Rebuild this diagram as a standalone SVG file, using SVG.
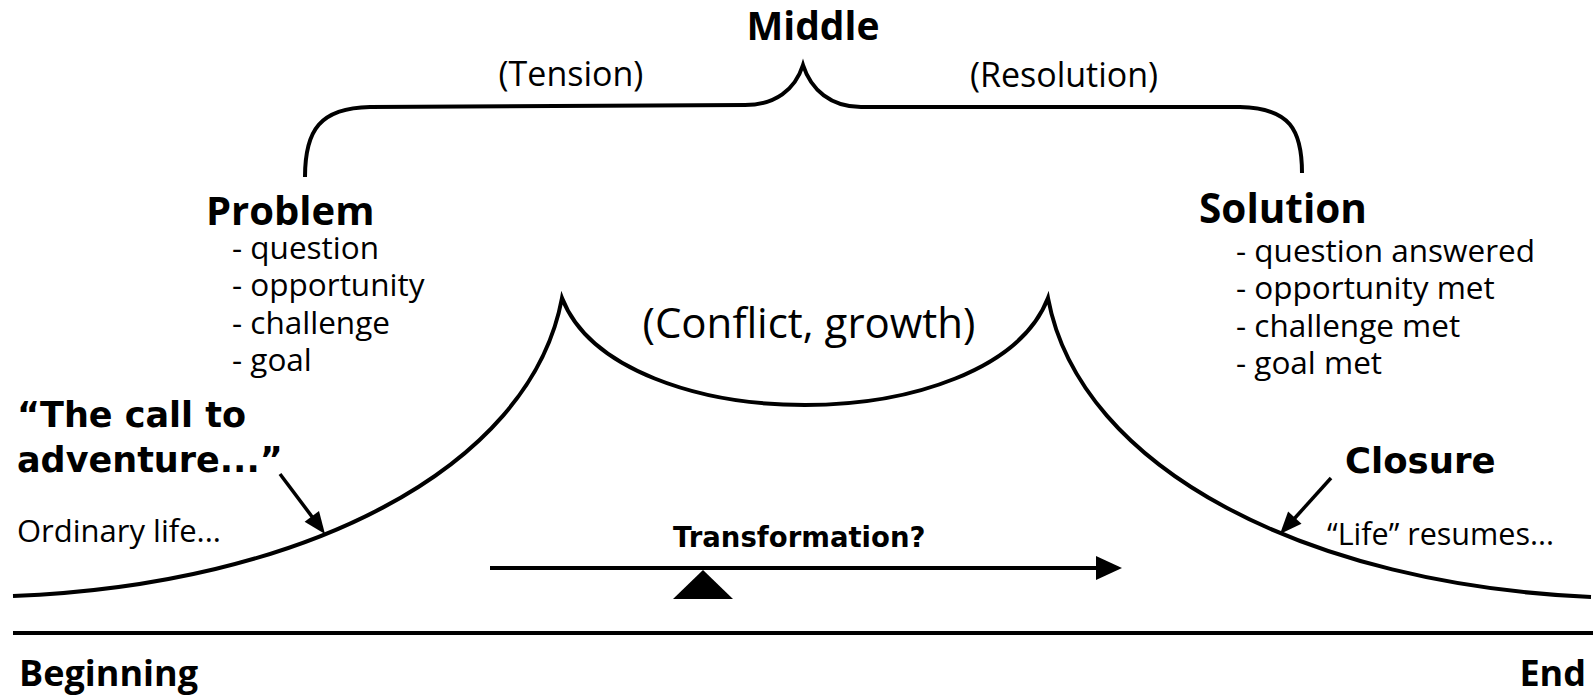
<svg xmlns="http://www.w3.org/2000/svg" width="1593" height="695" viewBox="0 0 1593 695">
<defs>
<style>
.r{font-family:"Open Sans","Noto Sans",sans-serif;fill:#000}
.b{font-family:"Open Sans","Noto Sans",sans-serif;font-weight:bold;fill:#000}
.v{font-family:"DejaVu Sans",sans-serif;font-weight:bold;fill:#000}
.ln{fill:none;stroke:#000;stroke-width:4;stroke-linecap:butt}
.ar{fill:none;stroke:#000;stroke-width:3.5}
.hd{fill:#000}
.li{font-size:31.5px}
</style>
</defs>
<rect width="1593" height="695" fill="#fff"/>
<g id="connectors">
<path class="ln" d="M305,177 C305,130 320,108 370,107 L745,105 C775,105 795,90 803,65 C811,90 831,107 861,107 L1240,107 C1290,108 1302,130 1302,173"/>
<path class="ln" d="M13,596 C300,585 530,470 562,298 C590,370 700,405 805,405 C910,405 1020,370 1048,298 C1080,470 1310,585 1591,597"/>
<path class="ln" d="M13,633 L1593,633"/>
<path class="ln" d="M490,568 L1100,568"/>
<polygon class="hd" points="1096,556 1122,568 1096,580"/>
<polygon class="hd" points="703,570 673,599 733,599"/>
<path class="ar" d="M280,474 L313,518"/>
<polygon class="hd" points="325,534 304.6,521.8 319,511"/>
<path class="ar" d="M1331,478 L1294,519"/>
<polygon class="hd" points="1280,534 1301.5,523.8 1288.1,511.6"/>
</g>
<g id="middle"><text class="b" x="813" y="40" font-size="39" text-anchor="middle">Middle</text></g>
<g id="tension"><text class="r" x="571" y="86" font-size="34" text-anchor="middle">(Tension)</text></g>
<g id="resolution"><text class="r" x="1064" y="87" font-size="34" text-anchor="middle">(Resolution)</text></g>
<g id="problem">
<text class="b" x="206" y="225" font-size="40">Problem</text>
<text class="r li" x="232" y="259">- question</text>
<text class="r li" x="232" y="296">- opportunity</text>
<text class="r li" x="232" y="334">- challenge</text>
<text class="r li" x="232" y="371">- goal</text>
</g>
<g id="solution">
<text class="b" x="1199" y="223" font-size="40.5">Solution</text>
<text class="r li" x="1236" y="262">- question answered</text>
<text class="r li" x="1236" y="299">- opportunity met</text>
<text class="r li" x="1236" y="337">- challenge met</text>
<text class="r li" x="1236" y="374">- goal met</text>
</g>
<g id="conflict"><text class="r" x="809" y="338" font-size="42" text-anchor="middle">(Conflict, growth)</text></g>
<g id="call">
<text class="v" x="17" y="427" font-size="35">“The call to</text>
<text class="v" x="17" y="472" font-size="35">adventure...”</text>
</g>
<g id="ordinary"><text class="r" x="17" y="542" font-size="31">Ordinary life...</text></g>
<g id="closure"><text class="v" x="1345" y="473" font-size="35.5">Closure</text></g>
<g id="life"><text class="r" x="1327" y="545" font-size="30.5">“Life” resumes...</text></g>
<g id="transformation"><text class="v" x="673" y="547" font-size="27.5">Transformation?</text></g>
<g id="beginning"><text class="b" x="19" y="686" font-size="36">Beginning</text></g>
<g id="end"><text class="b" x="1586" y="686" font-size="36" text-anchor="end">End</text></g>
</svg>
